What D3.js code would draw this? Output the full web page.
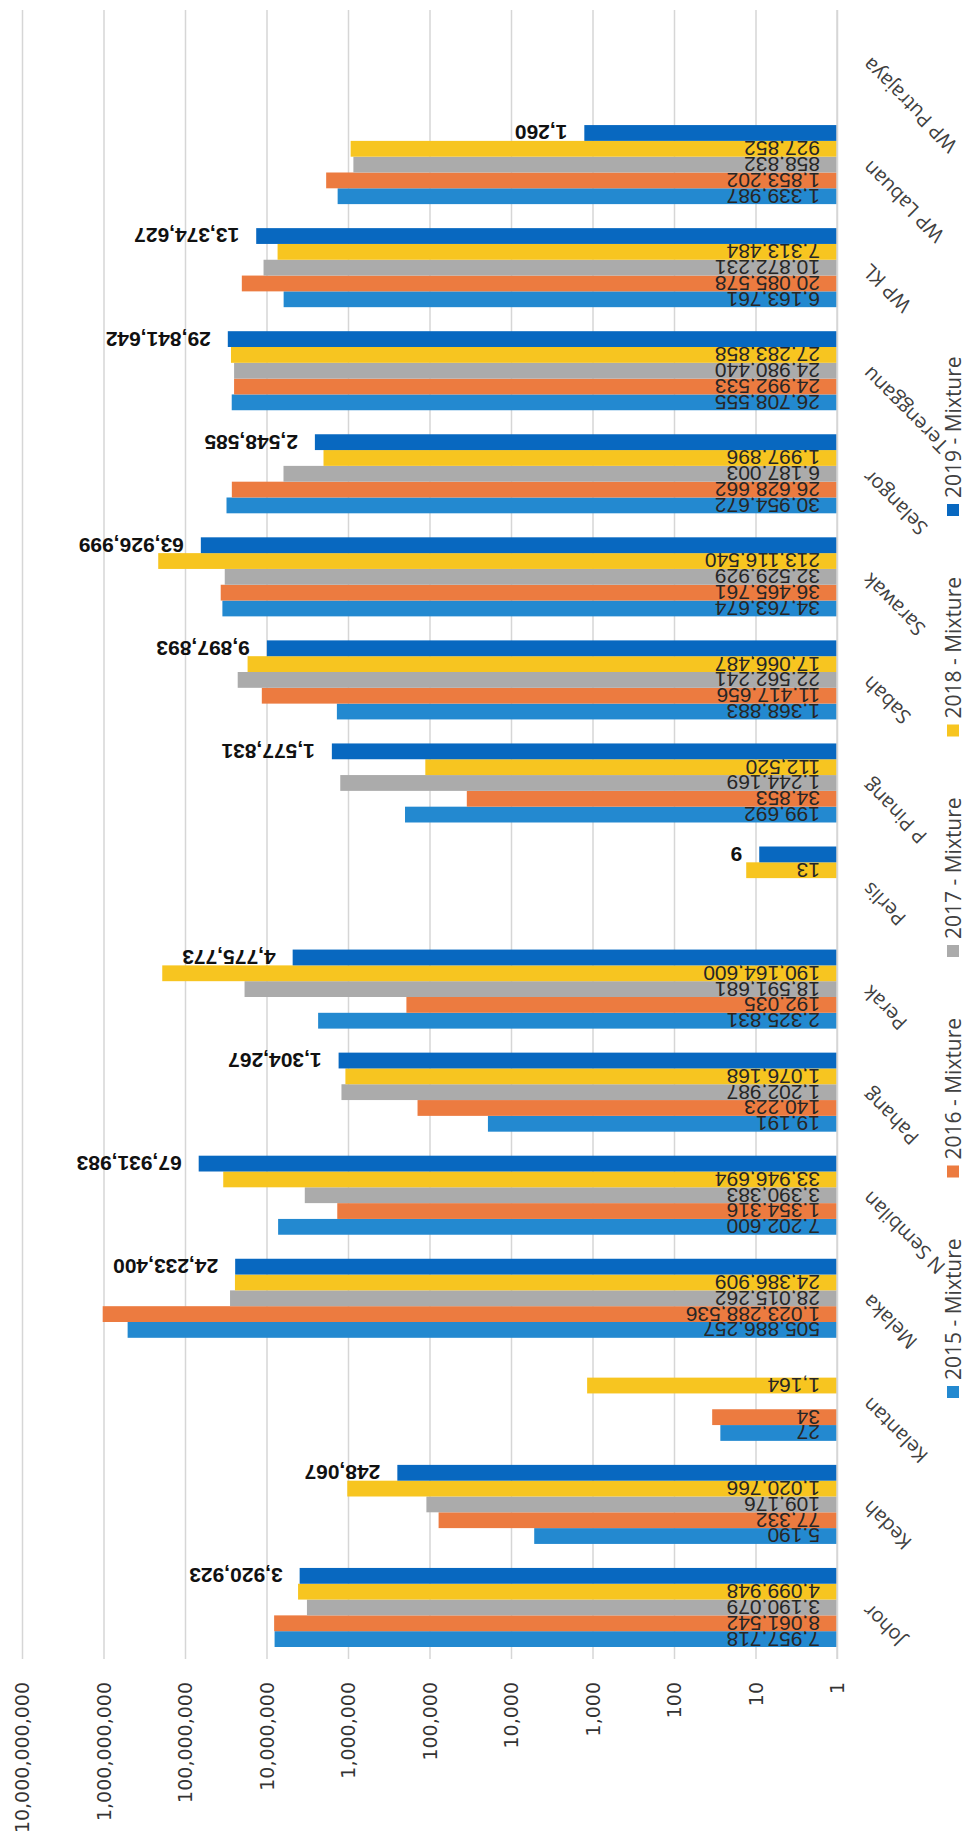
<!DOCTYPE html>
<html>
<head>
<meta charset="utf-8">
<script src="https://d3js.org/d3.v7.min.js"></script>
<style>
	body { margin: 0; background: #ffffff; }
	svg { display: block; }
</style>
</head>
<body>
<div id="chart"></div>
<script>

var categories = ["Johor", "Kedah", "Kelantan", "Melaka", "N Sembilan", "Pahang", "Perak", "Perlis",
	"P Pinang", "Sabah", "Sarawak", "Selangor", "Terengganu", "WP KL", "WP Labuan", "WP Putrajaya"];

var seriesNames = ["2015 - Mixture", "2016 - Mixture", "2017 - Mixture", "2018 - Mixture", "2019 - Mixture"];

var mix2015 = [7957718, 5190, 27, 505886257, 7202600, 19191, 2325831, null, 199692, 1368883, 34763674, 30954672, 26708555, 6163761, 1339987, null];
var mix2016 = [8061542, 77332, 34, 1023288536, 1354316, 140223, 192035, null, 34853, 11417656, 36465761, 26628662, 24992533, 20085578, 1853202, null];
var mix2017 = [3190079, 109176, null, 28015262, 3390383, 1202987, 18591681, null, 1244169, 22562241, 32529929, 6187003, 24980440, 10872231, 858832, null];
var mix2018 = [4099948, 1020766, 1164, 24386909, 33946694, 1076168, 190164600, 13, 112520, 17066487, 213116540, 1997896, 27283858, 7313484, 927852, null];
var mix2019 = [3920923, 248067, null, 24233400, 67931983, 1304267, 4775773, 9, 1577831, 9897893, 63926999, 2548585, 29841642, 13374627, 1260, null];

var tickValues = [1, 10, 100, 1000, 10000, 100000, 1000000, 10000000, 100000000, 1000000000, 10000000000];

var drawChart = function() {

	var width = 967;
	var height = 1836;
	var plotTop = 10;
	var plotBottom = 1659;
	var baseX = 837;

	var colors = ["#2389d0", "#ec7b40", "#ababab", "#f7c520", "#0868c0"];
	var seriesValues = [mix2015, mix2016, mix2017, mix2018, mix2019];
	var fmt = d3.format(",");

	var svg = d3.select("#chart").append("svg")
		.attr("width", width)
		.attr("height", height);

	//value axis runs right (1) to left (10 billion)
	var x = d3.scaleLog()
		.domain([1, 10000000000])
		.range([baseX, 22]);

	//Johor at the bottom, WP Putrajaya at the top
	var y = d3.scaleBand()
		.domain(categories.slice().reverse())
		.range([plotTop, plotBottom])
		.paddingInner(0.233)
		.paddingOuter(0.1165);

	//2019 sits at the top of each group
	var ySeries = d3.scaleBand()
		.domain(d3.range(seriesNames.length).reverse())
		.range([0, y.bandwidth()]);

	// gridlines
	var grid = svg.append("g")
		.attr("transform", "translate(0," + plotBottom + ")")
		.call(d3.axisBottom(x).tickValues(tickValues).tickSize(-(plotBottom - plotTop)).tickFormat(""));
	grid.select(".domain").remove();
	grid.selectAll("line").attr("stroke", "#d6d6d6").attr("stroke-width", 1.5);

	// value tick labels, rotated
	var valueAxis = svg.append("g")
		.attr("transform", "translate(0,1682)")
		.call(d3.axisBottom(x).tickValues(tickValues).tickSize(0).tickFormat(fmt));
	valueAxis.select(".domain").remove();
	valueAxis.selectAll("text")
		.attr("x", 0)
		.attr("y", 0)
		.attr("dy", "0.36em")
		.attr("transform", "rotate(-90)")
		.style("text-anchor", "end")
		.style("font-family", "DejaVu Sans")
		.style("font-size", "19px")
		.style("fill", "#333333");

	// bars
	seriesValues.forEach(function(vals, s) {

		var rows = categories.map(function(c, i) { return { cat: c, value: vals[i] }; })
			.filter(function(d) { return d.value != null; });

		svg.append("g").selectAll("rect")
			.data(rows)
			.enter()
			.append("rect")
			.attr("x", function(d) { return x(d.value); })
			.attr("y", function(d) { return y(d.cat) + ySeries(s); })
			.attr("width", function(d) { return baseX - x(d.value); })
			.attr("height", ySeries.bandwidth())
			.attr("fill", colors[s]);

		var labels = svg.append("g").selectAll("text")
			.data(rows)
			.enter()
			.append("text")
			.attr("dy", "0.36em")
			.style("font-family", "Liberation Sans")
			.style("font-size", "21px")
			.style("text-anchor", "start")
			.text(function(d) { return fmt(d.value); });

		if (s == 4) {
			//2019 labels are bold and sit past the bar end
			labels
				.attr("x", function(d) { return x(d.value) - 17; })
				.attr("y", function(d) { return y(d.cat) + ySeries(s) + ySeries.bandwidth() / 2; })
				.attr("transform", function(d) {
					return "rotate(180," + (x(d.value) - 17) + "," + (y(d.cat) + ySeries(s) + ySeries.bandwidth() / 2) + ")";
				})
				.style("font-weight", "bold")
				.style("fill", "#111111");
		} else {
			labels
				.attr("x", baseX - 17)
				.attr("y", function(d) { return y(d.cat) + ySeries(s) + ySeries.bandwidth() / 2; })
				.attr("transform", function(d) {
					return "rotate(180," + (baseX - 17) + "," + (y(d.cat) + ySeries(s) + ySeries.bandwidth() / 2) + ")";
				})
				.style("fill", "#262626");
		}

	});

	// category axis line
	svg.append("line")
		.attr("x1", baseX).attr("x2", baseX)
		.attr("y1", plotTop).attr("y2", plotBottom)
		.attr("stroke", "#d6d6d6")
		.attr("stroke-width", 1.5);

	// category labels, tilted
	var catAxis = svg.append("g")
		.attr("transform", "translate(866,0)")
		.call(d3.axisRight(y).tickSize(0));
	catAxis.select(".domain").remove();
	catAxis.selectAll("text")
		.attr("x", 0)
		.attr("y", 0)
		.attr("dy", "0.36em")
		.attr("transform", "rotate(-135)")
		.style("text-anchor", "end")
		.style("font-family", "Open Sans")
		.style("font-size", "20px")
		.style("fill", "#404040");

	// legend down the right edge
	var legend = svg.append("g").selectAll("g")
		.data(seriesNames)
		.enter()
		.append("g")
		.attr("transform", function(d, i) { return "translate(953," + (1392 - i * 220.5) + ")"; });

	legend.append("rect")
		.attr("x", -6)
		.attr("y", -6)
		.attr("width", 12)
		.attr("height", 12)
		.attr("fill", function(d, i) { return colors[i]; });

	legend.append("text")
		.attr("x", 0)
		.attr("y", -12)
		.attr("dy", "0.36em")
		.attr("transform", "rotate(-90,0,-12)")
		.style("font-family", "Open Sans")
		.style("font-size", "21px")
		.style("fill", "#404040")
		.text(function(d) { return d; });

};

drawChart();

</script>
</body>
</html>
